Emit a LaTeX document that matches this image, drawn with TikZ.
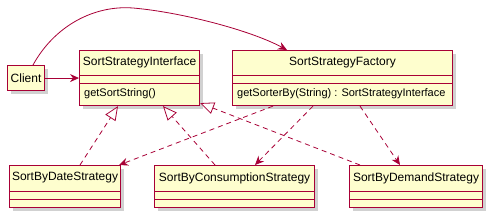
\documentclass[tikz,border=0pt]{standalone}
\usepackage{fontspec}
\setmainfont{Liberation Sans}
\usetikzlibrary{arrows.meta, positioning, calc, shadows}
\definecolor{umlred}{HTML}{A80036}
\definecolor{umlfill}{HTML}{FEFECE}

\begin{document}
\begin{tikzpicture}[
        x=1pt, y=-1pt,
        cls/.style={rectangle, draw=umlred, line width=1.1pt, fill=umlfill, anchor=north west, inner sep=0pt,
            drop shadow={shadow xshift=3pt, shadow yshift=-3pt, fill=black, opacity=0.18}},
        clsname/.style={font=\fontsize{12}{14}\selectfont, inner sep=0pt},
        member/.style={font=\fontsize{11}{13}\selectfont, anchor=west, inner sep=0pt},
        sep/.style={draw=umlred, line width=0.8pt},
        dep/.style={umlred, line width=0.8pt, dash pattern=on 5pt off 4pt, -{Stealth[length=9pt, width=8pt, inset=3pt]}},
        real/.style={umlred, line width=0.8pt, dash pattern=on 5pt off 4pt, -{Triangle[open, length=14pt, width=12pt, fill=white]}},
        assoc/.style={umlred, line width=0.8pt, -{Stealth[length=9pt, width=8pt, inset=3pt]}}
    ]
        \useasboundingbox (0,0) rectangle (499,218);

        % top row
        \node[cls, minimum width=37pt, minimum height=25pt] (client) at (7,65) {};
        \node[clsname] at (client.center) {Client};

        \node[cls, minimum width=120pt, minimum height=55pt] (iface) at (79,50) {};
        \node[clsname] at ($(iface.north)+(0,12.5)$) {SortStrategyInterface};
        \node[member] at ($(iface.north west)+(5,44)$) {getSortString()};

        \node[cls, minimum width=220pt, minimum height=55pt] (factory) at (232,50) {};
        \node[clsname] at ($(factory.north)+(0,12.5)$) {SortStrategyFactory};
        \node[member] at ($(factory.north west)+(5,44)$) {getSorterBy(String) : SortStrategyInterface};

        \foreach \c in {iface, factory} {
            \draw[sep] ($(\c.north west)+(0,25)$) -- ($(\c.north east)+(0,25)$);
            \draw[sep] ($(\c.north west)+(0,33)$) -- ($(\c.north east)+(0,33)$);
        }

        % bottom row
        \node[cls, minimum width=111pt, minimum height=42pt] (date) at (9,165) {};
        \node[clsname] at ($(date.north)+(0,13)$) {SortByDateStrategy};

        \node[cls, minimum width=160pt, minimum height=42pt] (cons) at (154,165) {};
        \node[clsname] at ($(cons.north)+(0,13)$) {SortByConsumptionStrategy};

        \node[cls, minimum width=133pt, minimum height=42pt] (dem) at (349,165) {};
        \node[clsname] at ($(dem.north)+(0,13)$) {SortByDemandStrategy};

        \foreach \c in {date, cons, dem} {
            \draw[sep] ($(\c.north west)+(0,26)$) -- ($(\c.north east)+(0,26)$);
            \draw[sep] ($(\c.north west)+(0,34)$) -- ($(\c.north east)+(0,34)$);
        }

        % associations
        \draw[assoc] (client.east) -- (client.east -| iface.west);
        \draw[assoc] ($(client.north west)+(26,0)$) .. controls (55,25) and (95,5) .. (133,8)
            .. controls (180,12) and (250,30) .. ($(factory.north west)+(55,0)$);

        % realizations
        \draw[real] ($(date.north west)+(71,0)$) -- ($(iface.south west)+(39,0)$);
        \draw[real] ($(cons.north west)+(61,0)$) -- ($(iface.south west)+(84,0)$);
        \draw[real] ($(dem.north west)+(11,0)$) -- ($(iface.south east)+(0,-3)$);

        % dependencies
        \draw[dep] ($(factory.south west)+(41,0)$) -- ($(date.north east)+(-2,0)$);
        \draw[dep] ($(factory.south west)+(81,0)$) -- ($(cons.north west)+(101,0)$);
        \draw[dep] ($(factory.south west)+(128,0)$) -- ($(dem.north west)+(51,0)$);
    \end{tikzpicture}
\end{document}
